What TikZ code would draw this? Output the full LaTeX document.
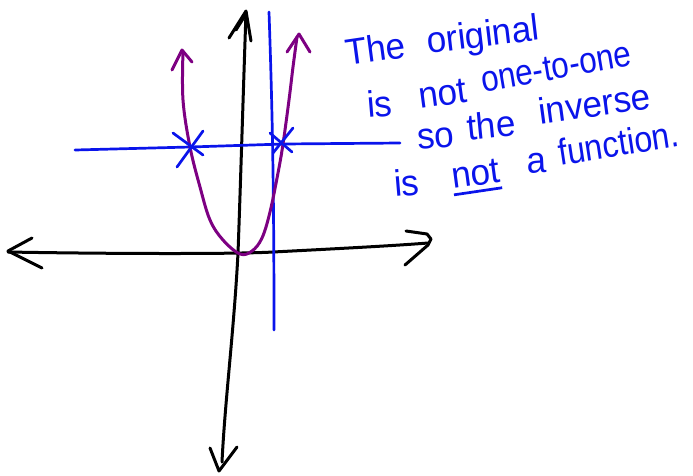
\documentclass[tikz,border=0pt]{standalone}
\usepackage{fontspec}
\newfontfamily\hand{Liberation Sans}
\definecolor{pen}{RGB}{10,20,235}
\definecolor{plum}{RGB}{125,0,130}
\newcommand\ulword[1]{\vtop{\hbox{#1}\kern4pt\hrule height 2.6pt}}
\tikzset{
  axisline/.style={black,line width=3pt,line cap=round,line join=round},
  curveline/.style={plum,line width=3pt,line cap=round,line join=round},
  blueline/.style={pen,line width=2.7pt,line cap=round,line join=round},
  note/.style={pen,font=\hand\fontsize{35}{38}\selectfont,anchor=base west,inner sep=0pt,yscale=1.05}
}
\begin{document}
\begin{tikzpicture}[x=1pt,y=-1pt]
\useasboundingbox (0,0) rectangle (693,475);
% x-axis
\draw[axisline] (8,252) .. controls (120,254) and (240,254) .. (273,252) .. controls (330,249) and (390,246) .. (428,243);
\draw[axisline] (32,238) -- (8,251) -- (42,268);
\draw[axisline] (406,231) -- (427,234) -- (431,239) -- (428,245) -- (405,265);
% y-axis
\draw[axisline] (246,12) .. controls (243,100) and (240,200) .. (238,253) .. controls (234,330) and (225,400) .. (222,462);
\draw[axisline] (229,38) -- (246,11) -- (251,41);
\draw[axisline] (236,30) -- (246,14);
\draw[axisline] (210,448) -- (219,471) -- (237,447);
% blue lines
\draw[blueline] (269,12) .. controls (272,100) and (274,180) .. (274,330);
\draw[blueline] (75,150) -- (190,147) -- (283,144) -- (400,143);
% parabola
\draw[curveline] plot[smooth,tension=0.6] coordinates {(183,52) (183,100) (190,147) (200,187) (210,220) (223,240) (240,254) (252,251) (262,238) (270,212) (278,173) (283,144) (289,100) (293,67) (297,37)};
\draw[curveline] (172,70) -- (182,50) -- (192,62);
\draw[curveline] (287,52) -- (299,34) -- (310,52);
% crossing marks
\draw[blueline] (173,133) -- (203,155);
\draw[blueline] (203,131) -- (177,167);
\draw[blueline] (270,133) -- (292,152);
\draw[blueline] (293,128) -- (273,153);
% handwritten note
\node[note,rotate=8] (w1) at (347,66) {The};
\node[note,rotate=7] (w2) at (428,54) {original};
\node[note,rotate=5] (w3) at (368,118) {is};
\node[note,rotate=8] (w4) at (420,109) {not};
\node[note,rotate=10,xscale=0.9] (w5) at (483,93) {one-to-one};
\node[note,rotate=5] (w6) at (418,150) {so};
\node[note,rotate=6] (w7) at (468,141) {the};
\node[note,rotate=8] (w8) at (540,125) {inverse};
\node[note,rotate=5] (w9) at (395,197) {is};
\node[note,rotate=8] (w10) at (453,189) {\ulword{not}};
\node[note,rotate=3] (w11) at (527,174) {a};
\node[note,rotate=9,xscale=0.92] (w12) at (560,166) {function.};
\end{tikzpicture}
\end{document}
